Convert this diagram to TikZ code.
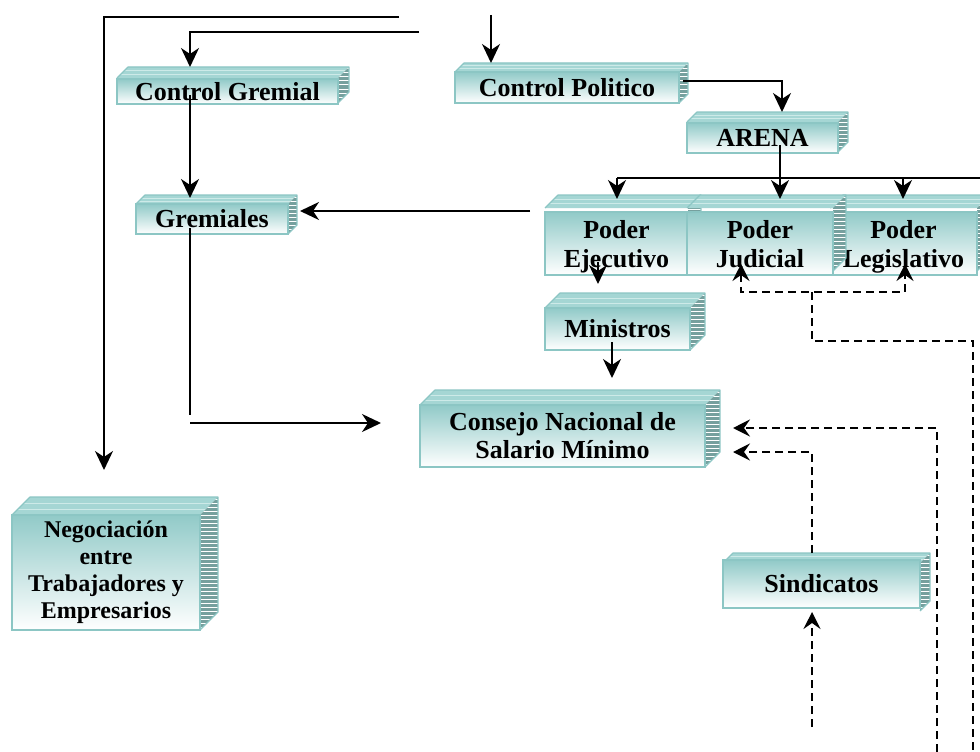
\documentclass[tikz,border=0pt]{standalone}
\usepackage{fontspec}
\setmainfont{Liberation Serif}
\usetikzlibrary{arrows.meta}
\definecolor{frontTop}{RGB}{145,202,200}
\definecolor{edgeC}{RGB}{140,198,196}
\definecolor{topC}{RGB}{165,214,212}
\definecolor{toplineC}{RGB}{205,234,232}
\definecolor{sideC}{RGB}{118,160,158}
\tikzset{
  front/.style={top color=frontTop, bottom color=white, draw=edgeC, line width=1.5pt,
    inner sep=0pt, outer sep=0pt, align=center, text=black,
    font=\bfseries\fontsize{26}{28}\selectfont},
  twoline/.style={font=\bfseries\fontsize{26}{29}\selectfont, text depth=0pt},
  fourline/.style={font=\bfseries\fontsize{24}{27}\selectfont},
  arr/.style={line width=1.7pt, -{Stealth[length=19pt,width=18pt,inset=6pt]}},
  darr/.style={line width=1.6pt, dash pattern=on 8pt off 5pt, -{Stealth[length=17pt,width=17pt,inset=6pt]}},
  dboth/.style={line width=1.6pt, dash pattern=on 8pt off 5pt, {Stealth[length=17pt,width=17pt,inset=6pt]}-{Stealth[length=17pt,width=17pt,inset=6pt]}},
  dsh/.style={line width=1.6pt, dash pattern=on 8pt off 5pt},
  plain/.style={line width=1.7pt},
}
% [#1 node options] #2 name, #3 left, #4 front top, #5 right, #6 bottom, #7 depth, #8 text
\newcommand{\tbox}[8][]{%
  \pgfmathsetmacro{\bw}{#5-#3}%
  \pgfmathsetmacro{\bh}{#6-#4}%
  \pgfmathsetmacro{\ya}{#4-#7+2}%
  \pgfmathsetmacro{\yb}{#4-#7+6}%
  \fill[topC] (#3,#4) -- ++(#7,-#7) -- ({#5+#7},{#4-#7}) -- (#5,#4) -- cycle;
  \draw[toplineC, line width=1pt] ({#3+#7/3},{#4-#7/3}) -- ({#5+#7/3},{#4-#7/3});
  \draw[toplineC, line width=1pt] ({#3+2*#7/3},{#4-2*#7/3}) -- ({#5+2*#7/3},{#4-2*#7/3});
  \begin{scope}
    \clip (#5,#4) -- ({#5+#7},{#4-#7}) -- ({#5+#7},{#6-#7}) -- (#5,#6) -- cycle;
    \fill[sideC] (#5,{#4-#7}) rectangle ({#5+#7},#6);
    \foreach \yy in {\ya,\yb,...,#6} \draw[white, line width=1pt] (#5,\yy) -- ({#5+#7},\yy);
  \end{scope}
  \draw[edgeC, line width=1.2pt, line join=round] (#3,#4) -- ++(#7,-#7) -- ({#5+#7},{#4-#7}) -- ({#5+#7},{#6-#7}) -- (#5,#6);
  \node[front, minimum width=\bw pt, minimum height=\bh pt, #1] (#2) at ({(#3+#5)/2},{(#4+#6)/2}) {#8};
}
\begin{document}
\begin{tikzpicture}[x=1pt,y=-1pt]
\useasboundingbox[fill=white] (0,0) rectangle (980,752);
% boxes
\tbox[yshift=-1pt]{cg}{117}{78}{338}{103}{11}{Control Gremial}
\tbox{cp}{455}{72}{679}{103}{9}{Control Politico}
\tbox[yshift=-1pt]{arena}{687}{122}{838}{152}{10}{ARENA}
\tbox{grem}{136}{204}{288}{234}{9}{Gremiales}
\tbox[twoline, yshift=-4pt]{legis}{830}{208}{977}{271}{13}{Poder\\Legislativo}
\tbox[twoline, yshift=-4pt]{ejec}{545}{208}{688}{271}{13}{Poder\\Ejecutivo}
\tbox[twoline, yshift=-4pt]{jud}{687}{208}{833}{271}{13}{Poder\\Judicial}
\tbox{mins}{545}{308}{690}{350}{15}{Ministros}
\tbox{cons}{420}{405}{705}{467}{15}{Consejo Nacional de\\Salario Mínimo}
\tbox[fourline]{neg}{12}{515}{200}{630}{18}{Negociación\\entre\\Trabajadores y\\Empresarios}
\tbox[yshift=3pt]{sind}{723}{563}{920}{611}{10}{Sindicatos}
% coordinates
\coordinate (a1) at (399,17);
\coordinate (negT) at (104,470);
\coordinate (a2) at (419,32);
\coordinate (cgT) at (190,67);
\coordinate (a3) at (491,15);
\coordinate (cpT) at (491,63);
\coordinate (cpR) at (683,81);
\coordinate (arT) at (782,112);
\coordinate (arB) at (780,145);
\coordinate (bm) at (780,178);
\coordinate (bl) at (617,178);
\coordinate (bre) at (980,178);
\coordinate (bg) at (903,178);
\coordinate (g1) at (190,95);
\coordinate (gremT) at (190,198);
\coordinate (g2) at (190,228);
\coordinate (g3) at (190,415);
\coordinate (h1) at (190,423);
\coordinate (h2) at (381,423);
\coordinate (e1) at (530,211);
\coordinate (gremR) at (300,211);
\coordinate (ej1) at (598,262);
\coordinate (ej2) at (598,284);
\coordinate (m1) at (612,342);
\coordinate (m2) at (612,378);
\coordinate (jB) at (741,264);
\coordinate (lB) at (905,264);
\coordinate (dm) at (812,292);
\coordinate (dr) at (973,752);
\coordinate (c1) at (937,752);
\coordinate (consR1) at (733,428);
\coordinate (consR2) at (733,452);
\coordinate (s1) at (812,727);
\coordinate (sB) at (812,612);
\coordinate (sT) at (812,553);
% solid connectors
\draw[arr] (a1) -| (negT);
\draw[arr] (a2) -| (cgT);
\draw[arr] (a3) -- (cpT);
\draw[arr] (cpR) -| (arT);
\draw[plain] (arB) -- (bm);
\draw[plain] (bl) -- (bre);
\draw[arr] (bl) -- ([yshift=13pt]bl |- ejec.north);
\draw[arr] (bm) -- ([yshift=13pt]bm |- jud.north);
\draw[arr] (bg) -- ([yshift=13pt]bg |- legis.north);
\draw[arr] (g1) -- (gremT);
\draw[plain] (g2) -- (g3);
\draw[arr] (h1) -- (h2);
\draw[arr] (e1) -- (gremR);
\draw[arr] (ej1) -- (ej2);
\draw[arr] (m1) -- (m2);
% dashed connectors
\draw[dboth] (jB) |- (dm) -| (lB);
\draw[dsh] (dm) |- (973,341) -- (dr);
\draw[darr] (c1) |- (consR1);
\draw[darr] (sT) |- (consR2);
\draw[darr] (s1) -- (sB);
\end{tikzpicture}
\end{document}
